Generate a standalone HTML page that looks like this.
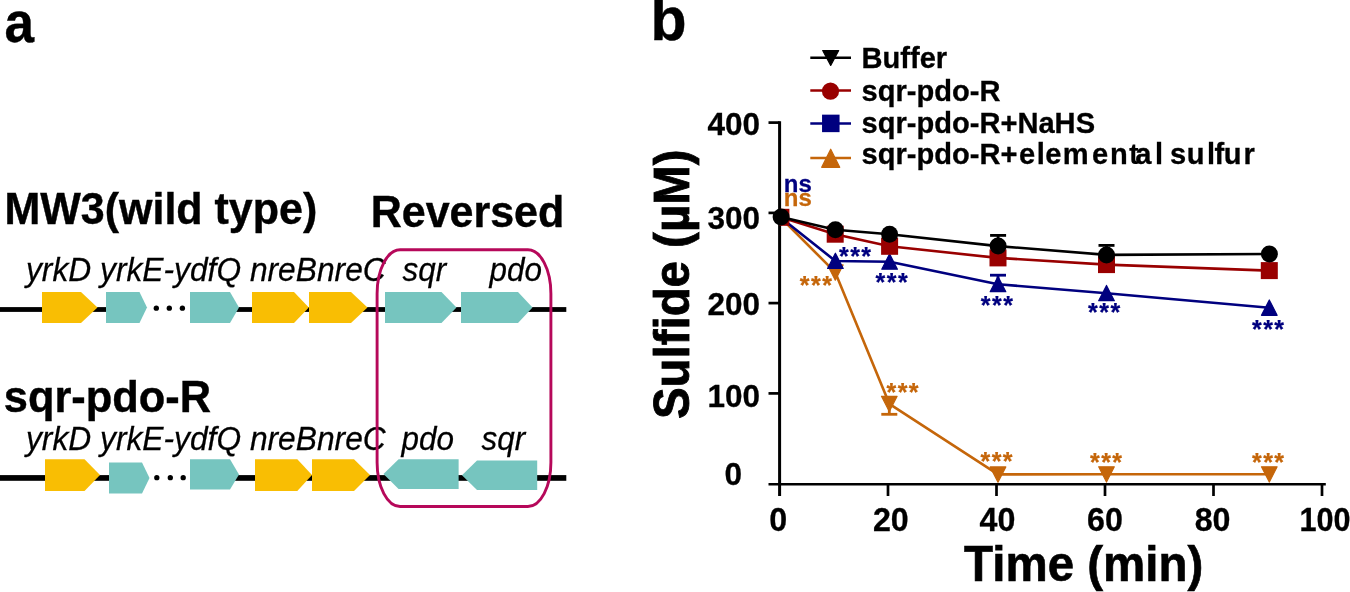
<!DOCTYPE html>
<html lang="en"><head><meta charset="utf-8"><title>Figure</title>
<style>
html,body{margin:0;padding:0;background:#fff;}
body{width:1350px;height:592px;overflow:hidden;}
svg{display:block;}
text{font-family:"Liberation Sans",sans-serif;}
.b{font-weight:bold;}
.i{font-style:italic;}
</style></head><body>
<svg width="1350" height="592" viewBox="0 0 1350 592">
<rect width="1350" height="592" fill="#fff"/>

<text class="b" transform="translate(4.4,41.6) scale(0.9,0.97)" font-size="59" stroke="#000" stroke-width="0.4">a</text>
<text class="b" transform="translate(650.5,40.4) scale(1,1.04)" font-size="59" stroke="#000" stroke-width="0.4">b</text>
<text class="b" transform="translate(4.4,223.6) scale(1,1.04)" font-size="43" stroke="#000" stroke-width="0.4">MW3(wild type)</text>
<text class="b" transform="translate(370.7,226.8) scale(1,1.03)" font-size="43" stroke="#000" stroke-width="0.4">Reversed</text>
<text class="b" transform="translate(3.8,412.3) scale(1,1.04)" font-size="43.4" stroke="#000" stroke-width="0.4">sqr-pdo-R</text>
<rect x="0" y="307.1" width="110" height="4.8" fill="#000"/>
<rect x="230" y="307.1" width="336.3" height="4.8" fill="#000"/>
<polygon points="42,292 81,292 97.5,307.5 81,323 42,323" fill="#f9be03"/>
<polygon points="106,292 139.5,292 147,307.5 139.5,323 106,323" fill="#76c5bf"/>
<polygon points="190,292 230,292 239,307.5 230,323 190,323" fill="#76c5bf"/>
<polygon points="252,292 294,292 308.8,307.5 294,323 252,323" fill="#f9be03"/>
<polygon points="309,292 351,292 367.5,307.5 351,323 309,323" fill="#f9be03"/>
<polygon points="385,292 441.5,292 456.5,307.5 441.5,323 385,323" fill="#76c5bf"/>
<polygon points="461,292 518,292 532.5,307.5 518,323 461,323" fill="#76c5bf"/>
<circle cx="156.3" cy="308.2" r="2.65" fill="#000"/>
<circle cx="169.3" cy="308.2" r="2.65" fill="#000"/>
<circle cx="182.4" cy="308.2" r="2.65" fill="#000"/>
<rect x="0" y="475.1" width="112" height="5.7" fill="#000"/>
<rect x="230" y="475.1" width="336.3" height="5.7" fill="#000"/>
<polygon points="45,459.2 84.5,459.2 100,475.1 84.5,491 45,491" fill="#f9be03"/>
<polygon points="109,462.5 142,462.5 149.5,477.95 142,493.4 109,493.4" fill="#76c5bf"/>
<polygon points="190,459.2 230,459.2 239,474.4 230,489.6 190,489.6" fill="#76c5bf"/>
<polygon points="255,459.2 297.3,459.2 312,475.1 297.3,491 255,491" fill="#f9be03"/>
<polygon points="312,459.2 354,459.2 370,475.1 354,491 312,491" fill="#f9be03"/>
<polygon points="383.5,474.1 398.6,459.2 458.6,459.2 458.6,489 398.6,489" fill="#76c5bf"/>
<polygon points="462,475.2 477,460.4 537.2,460.4 537.2,490 477,490" fill="#76c5bf"/>
<circle cx="156.8" cy="477.7" r="2.65" fill="#000"/>
<circle cx="170.3" cy="477.7" r="2.65" fill="#000"/>
<circle cx="183.2" cy="477.7" r="2.65" fill="#000"/>
<text class="i" transform="translate(26,281) scale(1,1.04)" font-size="31.75" stroke="#000" stroke-width="0.25">yrkD yrkE-ydfQ nreBnreC</text>
<text class="i" transform="translate(402.5,281) scale(1,1.04)" font-size="31.4" stroke="#000" stroke-width="0.25">sqr</text>
<text class="i" transform="translate(489.5,281) scale(1,1.04)" font-size="31.4" stroke="#000" stroke-width="0.25">pdo</text>
<text class="i" transform="translate(26,450) scale(1,1.04)" font-size="31.75" stroke="#000" stroke-width="0.25">yrkD yrkE-ydfQ nreBnreC</text>
<text class="i" transform="translate(401.5,450) scale(1,1.04)" font-size="31.4" stroke="#000" stroke-width="0.25">pdo</text>
<text class="i" transform="translate(481.5,450) scale(1,1.04)" font-size="31.4" stroke="#000" stroke-width="0.25">sqr</text>
<rect x="377.1" y="249.75" width="173.8" height="256.8" rx="23" ry="44" fill="none" stroke="#b6085a" stroke-width="2.9"/>
<g stroke="#000" stroke-width="2.7" fill="none">
<line x1="768.5" y1="484.3" x2="1325.8" y2="484.3" stroke-width="2.5"/>
<line x1="779.6" y1="121.3" x2="779.6" y2="496" stroke-width="3"/>
<line x1="888.0" y1="484.3" x2="888.0" y2="496"/>
<line x1="996.5" y1="484.3" x2="996.5" y2="496"/>
<line x1="1105.0" y1="484.3" x2="1105.0" y2="496"/>
<line x1="1213.5" y1="484.3" x2="1213.5" y2="496"/>
<line x1="1322.0" y1="484.3" x2="1322.0" y2="496"/>
<line x1="768.5" y1="393.4" x2="779.6" y2="393.4"/>
<line x1="768.5" y1="303.1" x2="779.6" y2="303.1"/>
<line x1="768.5" y1="212.9" x2="779.6" y2="212.9"/>
<line x1="768.5" y1="122.6" x2="779.6" y2="122.6"/>
</g>
<text class="b" transform="translate(778.1,531.3) scale(1,1.04)" font-size="32.2" text-anchor="middle" stroke="#000" stroke-width="0.3">0</text>
<text class="b" transform="translate(890.8,531.3) scale(1,1.04)" font-size="32.2" text-anchor="middle" stroke="#000" stroke-width="0.3">20</text>
<text class="b" transform="translate(997.5,531.3) scale(1,1.04)" font-size="32.2" text-anchor="middle" stroke="#000" stroke-width="0.3">40</text>
<text class="b" transform="translate(1105.0,531.3) scale(1,1.04)" font-size="32.2" text-anchor="middle" stroke="#000" stroke-width="0.3">60</text>
<text class="b" transform="translate(1212.6,531.3) scale(1,1.04)" font-size="32.2" text-anchor="middle" stroke="#000" stroke-width="0.3">80</text>
<text class="b" transform="translate(1325.0,531.3) scale(0.95,1.04)" font-size="32.2" text-anchor="middle" stroke="#000" stroke-width="0.3">100</text>
<text class="b" transform="translate(760,406.8) scale(1,1.0)" font-size="31.5" text-anchor="end" stroke="#000" stroke-width="0.3">100</text>
<text class="b" transform="translate(760,314.6) scale(1,1.0)" font-size="31.5" text-anchor="end" stroke="#000" stroke-width="0.3">200</text>
<text class="b" transform="translate(760,229.1) scale(1,1.0)" font-size="31.5" text-anchor="end" stroke="#000" stroke-width="0.3">300</text>
<text class="b" transform="translate(760,134.8) scale(1,1.0)" font-size="31.5" text-anchor="end" stroke="#000" stroke-width="0.3">400</text>
<text class="b" transform="translate(733.3,485.2) scale(1,1.0)" font-size="31.5" text-anchor="middle" stroke="#000" stroke-width="0.3">0</text>
<text class="b" transform="translate(1083.7,581.2) scale(1,1.04)" font-size="47.5" text-anchor="middle" stroke="#000" stroke-width="0.6">Time (min)</text>
<text class="b" transform="translate(688.6,284.3) rotate(-90) scale(1,1.06)" font-size="47.4" text-anchor="middle" stroke="#000" stroke-width="0.8">Sulfide (µM)</text>
<polyline points="780.6,217.5 835.3,272.4 889.3,403.8 998,474.4 1106.5,474.3 1269.3,474.3" fill="none" stroke="#c5660a" stroke-width="2.6" stroke-linejoin="round"/>
<line x1="889.3" y1="404.5" x2="889.3" y2="414.3" stroke="#c5660a" stroke-width="2.8"/><line x1="881.3" y1="414.3" x2="897.3" y2="414.3" stroke="#c5660a" stroke-width="2.8"/>
<polygon points="827.48,264.92 843.12,264.92 835.30,280.20" fill="#c5660a" stroke="#c5660a" stroke-width="1.2" stroke-linejoin="round"/>
<polygon points="881.48,396.32 897.12,396.32 889.30,411.60" fill="#c5660a" stroke="#c5660a" stroke-width="1.2" stroke-linejoin="round"/>
<polygon points="990.18,466.92 1005.82,466.92 998.00,482.20" fill="#c5660a" stroke="#c5660a" stroke-width="1.2" stroke-linejoin="round"/>
<polygon points="1098.68,466.82 1114.32,466.82 1106.50,482.10" fill="#c5660a" stroke="#c5660a" stroke-width="1.2" stroke-linejoin="round"/>
<polygon points="1261.48,466.82 1277.12,466.82 1269.30,482.10" fill="#c5660a" stroke="#c5660a" stroke-width="1.2" stroke-linejoin="round"/>
<polyline points="780.6,217.5 835.4,261 889.6,261.7 998,284.2 1106.5,293.2 1269.3,307.8" fill="none" stroke="#00007f" stroke-width="2.6" stroke-linejoin="round"/>
<line x1="998" y1="284" x2="998" y2="275.2" stroke="#00007f" stroke-width="2.8"/><line x1="990" y1="275.2" x2="1006" y2="275.2" stroke="#00007f" stroke-width="2.8"/>
<polygon points="827.58,268.48 843.22,268.48 835.40,253.20" fill="#00007f" stroke="#00007f" stroke-width="1.2" stroke-linejoin="round"/>
<polygon points="881.78,269.18 897.42,269.18 889.60,253.90" fill="#00007f" stroke="#00007f" stroke-width="1.2" stroke-linejoin="round"/>
<polygon points="990.18,291.68 1005.82,291.68 998.00,276.40" fill="#00007f" stroke="#00007f" stroke-width="1.2" stroke-linejoin="round"/>
<polygon points="1098.68,300.68 1114.32,300.68 1106.50,285.40" fill="#00007f" stroke="#00007f" stroke-width="1.2" stroke-linejoin="round"/>
<polygon points="1261.48,315.28 1277.12,315.28 1269.30,300.00" fill="#00007f" stroke="#00007f" stroke-width="1.2" stroke-linejoin="round"/>
<polyline points="780.9,217.3 835.2,234.2 889.6,246.3 998,257.9 1106.5,264.6 1269.3,270.6" fill="none" stroke="#990000" stroke-width="2.6" stroke-linejoin="round"/>
<clipPath id="pc"><rect x="779.6" y="100" width="560" height="400"/></clipPath>
<g clip-path="url(#pc)"><rect x="772.4" y="208.8" width="17" height="17" fill="#990000"/></g>
<rect x="826.7" y="225.7" width="17" height="17" fill="#990000"/>
<rect x="881.1" y="237.8" width="17" height="17" fill="#990000"/>
<rect x="989.5" y="249.39999999999998" width="17" height="17" fill="#990000"/>
<rect x="1098.0" y="256.1" width="17" height="17" fill="#990000"/>
<rect x="1260.8" y="262.1" width="17" height="17" fill="#990000"/>
<polyline points="781.1,217.1 835.4,229.8 889.6,234.2 998.1,246.1 1106.5,254.9 1269.4,254" fill="none" stroke="#000" stroke-width="2.6" stroke-linejoin="round"/>
<line x1="998.1" y1="246" x2="998.1" y2="235.4" stroke="#000" stroke-width="2.8"/><line x1="990.1" y1="235.4" x2="1006.1" y2="235.4" stroke="#000" stroke-width="2.8"/>
<line x1="1106.5" y1="255" x2="1106.5" y2="245.4" stroke="#000" stroke-width="2.8"/><line x1="1098.5" y1="245.4" x2="1114.5" y2="245.4" stroke="#000" stroke-width="2.8"/>
<circle cx="781.1" cy="217.1" r="8.5" fill="#000"/>
<circle cx="835.4" cy="229.8" r="8.5" fill="#000"/>
<circle cx="889.6" cy="234.2" r="8.5" fill="#000"/>
<circle cx="998.1" cy="246.1" r="8.5" fill="#000"/>
<circle cx="1106.5" cy="254.9" r="8.5" fill="#000"/>
<circle cx="1269.4" cy="254" r="8.5" fill="#000"/>
<text class="b" transform="translate(797.8,191.5) scale(1,1.02)" font-size="24" text-anchor="middle" fill="#00007f" letter-spacing="0" stroke="#00007f" stroke-width="0.25">ns</text>
<text class="b" transform="translate(797.8,206.2) scale(1,1.02)" font-size="24" text-anchor="middle" fill="#c5660a" letter-spacing="0" stroke="#c5660a" stroke-width="0.25">ns</text>
<text class="b" transform="translate(855.75,265.4) scale(1,1.0)" font-size="25" text-anchor="middle" fill="#00007f" letter-spacing="1.5" stroke="#00007f" stroke-width="0.25">***</text>
<text class="b" transform="translate(892.45,291) scale(1,1.0)" font-size="25" text-anchor="middle" fill="#00007f" letter-spacing="1.5" stroke="#00007f" stroke-width="0.25">***</text>
<text class="b" transform="translate(997.55,314) scale(1,1.0)" font-size="25" text-anchor="middle" fill="#00007f" letter-spacing="1.5" stroke="#00007f" stroke-width="0.25">***</text>
<text class="b" transform="translate(1104.95,321.1) scale(1,1.0)" font-size="25" text-anchor="middle" fill="#00007f" letter-spacing="1.5" stroke="#00007f" stroke-width="0.25">***</text>
<text class="b" transform="translate(1268.75,338) scale(1,1.0)" font-size="25" text-anchor="middle" fill="#00007f" letter-spacing="1.5" stroke="#00007f" stroke-width="0.25">***</text>
<text class="b" transform="translate(816.55,294.3) scale(1,1.0)" font-size="25" text-anchor="middle" fill="#c5660a" letter-spacing="1.5" stroke="#c5660a" stroke-width="0.25">***</text>
<text class="b" transform="translate(903.25,400.8) scale(1,1.0)" font-size="25" text-anchor="middle" fill="#c5660a" letter-spacing="1.5" stroke="#c5660a" stroke-width="0.25">***</text>
<text class="b" transform="translate(997.25,470.4) scale(1,1.0)" font-size="25" text-anchor="middle" fill="#c5660a" letter-spacing="1.5" stroke="#c5660a" stroke-width="0.25">***</text>
<text class="b" transform="translate(1106.75,470.5) scale(1,1.0)" font-size="25" text-anchor="middle" fill="#c5660a" letter-spacing="1.5" stroke="#c5660a" stroke-width="0.25">***</text>
<text class="b" transform="translate(1268.75,470.5) scale(1,1.0)" font-size="25" text-anchor="middle" fill="#c5660a" letter-spacing="1.5" stroke="#c5660a" stroke-width="0.25">***</text>
<line x1="810.3" y1="57.8" x2="851" y2="57.8" stroke="#000" stroke-width="2.5"/>
<polygon points="822.70,50.50 838.70,50.50 830.70,65.43" fill="#000" stroke="#000" stroke-width="1.2" stroke-linejoin="round"/>
<line x1="810.3" y1="90.6" x2="851" y2="90.6" stroke="#990000" stroke-width="2.5"/>
<circle cx="830.5" cy="91.19999999999999" r="8.6" fill="#990000"/>
<line x1="810.3" y1="123.4" x2="851" y2="123.4" stroke="#00007f" stroke-width="2.5"/>
<rect x="822.05" y="114.65" width="17.5" height="17.5" fill="#00007f"/>
<line x1="810.3" y1="158" x2="851" y2="158" stroke="#c5660a" stroke-width="2.5"/>
<polygon points="821.67,167.30 839.73,167.30 830.70,149.24" fill="#c5660a" stroke="#c5660a" stroke-width="1.2" stroke-linejoin="round"/>
<text class="b" transform="translate(861.5,67.9) scale(1,1.01)" font-size="29.1" stroke="#000" stroke-width="0.3">Buffer</text>
<text class="b" transform="translate(861.5,100.5) scale(1,1.01)" font-size="29.1" stroke="#000" stroke-width="0.3">sqr-pdo-R</text>
<text class="b" transform="translate(861.5,133.3) scale(1,1.01)" font-size="29.1" stroke="#000" stroke-width="0.3">sqr-pdo-R+NaHS</text>
<text class="b" transform="translate(0,164.1) scale(1,1.01)" font-size="29.1"><tspan x="861.5" stroke="#000" stroke-width="0.3">sqr-pdo-R+</tspan><tspan x="1019.0 1036.7 1045.3 1062.8 1092.1 1110.0" stroke="#000" stroke-width="0.3">elemen</tspan><tspan x="1129.1">t</tspan><tspan x="1135.2 1154.9 1163.0 1170.1 1186.8 1206.9 1214.6 1223.7 1243.4" stroke="#000" stroke-width="0.3">al sulfur</tspan></text>
</svg>
</body></html>
